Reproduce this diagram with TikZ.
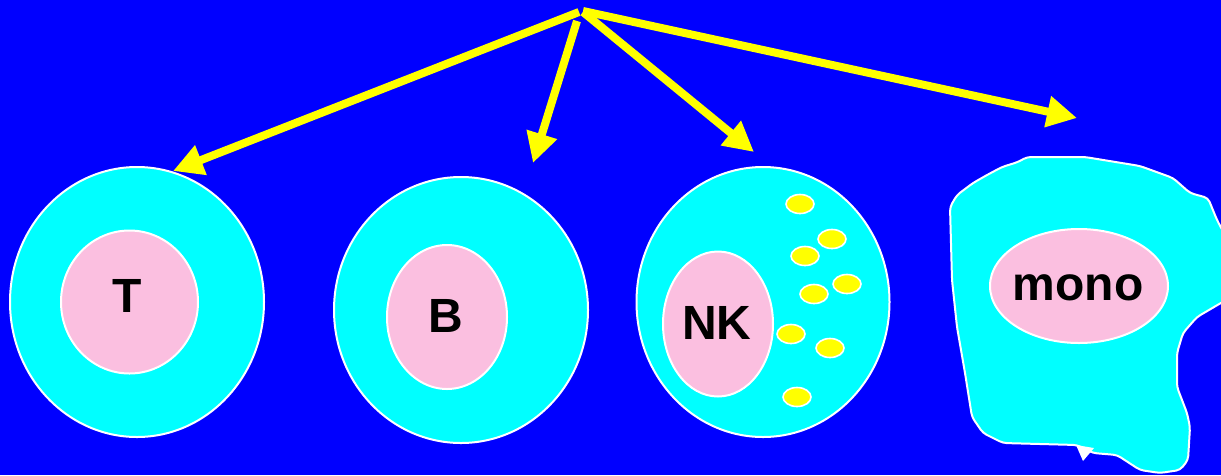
\documentclass[tikz,border=0pt]{standalone}
\usepackage{fontspec}
\setmainfont{Liberation Sans}
\usetikzlibrary{shapes.geometric,arrows.meta}
\definecolor{bgblue}{RGB}{0,0,255}
\definecolor{cellcyan}{RGB}{0,255,255}
\definecolor{nucpink}{RGB}{251,191,224}
\definecolor{arrowyellow}{RGB}{255,255,0}
\tikzset{
  cellbody/.style={ellipse, draw=white, line width=2pt, fill=cellcyan, inner sep=0pt},
  nucleus/.style={ellipse, draw=white, line width=2pt, fill=nucpink, inner sep=0pt},
  granule/.style={ellipse, draw=white, line width=1.6pt, fill=arrowyellow, inner sep=0pt,
    minimum width=28pt, minimum height=19pt},
  celltext/.style={font=\bfseries\fontsize{48}{50}\selectfont, text=black, inner sep=0pt},
  pointer/.style={draw=arrowyellow, line width=8pt,
    -{Triangle[length=30pt,width=30pt]}, fill=arrowyellow},
}
\begin{document}
\begin{tikzpicture}[x=1pt,y=-1pt]
  \useasboundingbox (0,0) rectangle (1221,475);
  \clip (0,0) rectangle (1221,475);
  \fill[bgblue] (0,0) rectangle (1221,475);

  % T lymphocyte
  \node[cellbody, minimum width=254pt, minimum height=270pt] (tcell) at (137,302) {};
  \node[nucleus, minimum width=137pt, minimum height=143pt] (tnuc) at (129.5,302) {};
  \node[celltext] (tlabel) at (127,296) {T};

  % B lymphocyte
  \node[cellbody, minimum width=254pt, minimum height=266pt] (bcell) at (461,310) {};
  \node[nucleus, minimum width=120pt, minimum height=144pt] (bnuc) at (447,317) {};
  \node[celltext] (blabel) at (446,316) {B};

  % NK cell with cytoplasmic granules
  \node[cellbody, minimum width=253pt, minimum height=270pt] (nkcell) at (763,302) {};
  \node[nucleus, minimum width=110pt, minimum height=145pt] (nknuc) at (718,324) {};
  \node[celltext] (nklabel) at (717,323) {NK};
  \foreach \gx/\gy [count=\i] in {800/204, 832/239, 805/256, 847/284, 814/294, 791/334, 830/348, 797/397}
    \node[granule] (gr\i) at (\gx,\gy) {};

  % Monocyte: irregular outline
  \draw[draw=white, line width=2pt, fill=cellcyan, rounded corners=4pt]
    (1027,157) -- (1085,157) -- (1140,166) -- (1173,178) -- (1190,193) -- (1208,198)
    -- (1217,220) -- (1226,237) -- (1226,300) -- (1197,317) -- (1183,333) -- (1177,353)
    -- (1177,387) -- (1187,413) -- (1190,427) -- (1188,460) -- (1180,470) -- (1160,473)
    -- (1140,470) -- (1117,455) -- (1093,453) -- (1077,445) -- (1003,443) -- (983,433)
    -- (972,417) -- (965,373) -- (957,327) -- (952,280) -- (950,207) -- (957,195)
    -- (973,183) -- (987,175) -- (1002,167) -- (1018,162) -- cycle;
  \fill[white] (1076,445) -- (1094,448) -- (1083,461) -- cycle;
  \node[nucleus, minimum width=178pt, minimum height=114pt] (mnuc) at (1079,286) {};
  \node[celltext] (mlabel) at (1078,288) {mono};

  % common origin of the lineage arrows
  \coordinate (srcT) at (579,12);
  \coordinate (srcB) at (577,21);
  \coordinate (srcNK) at (583,12);
  \coordinate (srcM) at (583,11);
  \coordinate (tipT) at (173,171);
  \coordinate (tipB) at (533,163);
  \coordinate (tipNK) at (754,152);
  \coordinate (tipM) at (1077,118);

  \draw[pointer] (srcT) -- (tipT);
  \draw[pointer] (srcB) -- (tipB);
  \draw[pointer] (srcNK) -- (tipNK);
  \draw[pointer] (srcM) -- (tipM);
\end{tikzpicture}
\end{document}
